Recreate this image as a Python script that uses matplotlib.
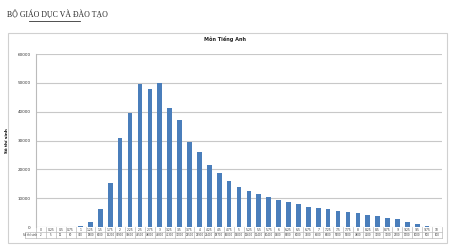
import matplotlib.pyplot as plt
import numpy as np
from matplotlib.patches import Rectangle
from matplotlib.lines import Line2D
import matplotlib.transforms as mtransforms

# score bins and number of candidates
scores = ['0', '0.25', '0.5', '0.75', '1', '1.25', '1.5', '1.75', '2', '2.25',
          '2.5', '2.75', '3', '3.25', '3.5', '3.75', '4', '4.25', '4.5', '4.75',
          '5', '5.25', '5.5', '5.75', '6', '6.25', '6.5', '6.75', '7', '7.25',
          '7.5', '7.75', '8', '8.25', '8.5', '8.75', '9', '9.25', '9.5', '9.75', '10']
counts = [2, 5, 12, 60, 300, 1800, 6200, 15200, 30900, 39600,
          49500, 48000, 49800, 41300, 37000, 29500, 25900, 21400, 18700, 16000,
          14000, 12600, 11400, 10400, 9400, 8700, 8000, 7100, 6600, 6300,
          5700, 5200, 4800, 4200, 3700, 3100, 2700, 1700, 1000, 500, 100]
yticks = [0, 10000, 20000, 30000, 40000, 50000, 60000]

W, H = 450, 247
BLUE = '#4A7EBB'
GRID = '#C8C8C8'


def main():
    fig = plt.figure(figsize=(W / 100, H / 100), dpi=100)
    fig.patch.set_facecolor('white')

    # page header
    fig.text(7 / W, 1 - 15 / H, 'BỘ GIÁO DỤC VÀ ĐÀO TẠO', family='Liberation Serif',
             fontsize=5.6, ha='left', va='center', color='#222222')
    fig.add_artist(Line2D([29 / W, 80 / W], [1 - 21 / H, 1 - 21 / H],
                          transform=fig.transFigure, color='#333333', lw=0.6))

    # chart frame
    fig.add_artist(Rectangle((8 / W, 1 - 243 / H), 439 / W, 210 / H,
                             transform=fig.transFigure, fill=False,
                             edgecolor='#D0D0D0', lw=0.8))
    fig.text(225 / W, 1 - 39 / H, 'Môn Tiếng Anh', fontsize=3.6, fontweight='bold',
             ha='center', va='center', color='#222222')

    left, right, top, bottom = 36, 442, 54, 227
    ax = fig.add_axes([left / W, 1 - bottom / H, (right - left) / W, (bottom - top) / H])
    x = np.arange(len(scores))
    ax.bar(x, counts, width=0.47, color=BLUE, zorder=3)
    ax.set_xlim(-0.5, len(scores) - 0.5)
    ax.set_ylim(0, 60000)
    ax.set_yticks(yticks)
    ax.set_yticklabels([str(v) for v in yticks], fontsize=3, color='#333333')
    ax.tick_params(axis='y', length=0, pad=4)
    ax.set_xticks([])
    ax.grid(axis='y', color=GRID, lw=0.8, zorder=0)
    for s in ['top', 'right', 'bottom']:
        ax.spines[s].set_visible(False)
    ax.spines['left'].set_color('#BBBBBB')
    ax.spines['left'].set_linewidth(0.8)
    ax.set_ylabel('Số thí sinh', fontsize=3, fontweight='bold', labelpad=6)

    # data table under the bars
    ph = bottom - top
    r1, r2, r3 = -5 / ph, -11 / ph, -0.0
    trans = mtransforms.blended_transform_factory(ax.transData, ax.transAxes)
    for yy in [r1, r2]:
        ax.add_line(Line2D([-0.5, len(scores) - 0.5], [yy, yy], transform=trans,
                           color='#BBBBBB', lw=0.5, clip_on=False))
    ax.add_line(Line2D([-1.6, -0.5], [r1, r1], transform=trans,
                       color='#BBBBBB', lw=0.5, clip_on=False))
    ax.add_line(Line2D([-1.6, -1.6], [r1, r2], transform=trans,
                       color='#BBBBBB', lw=0.5, clip_on=False))
    ax.add_line(Line2D([-1.6, -0.5], [r2, r2], transform=trans,
                       color='#BBBBBB', lw=0.5, clip_on=False))
    for i in range(len(scores) + 1):
        ax.add_line(Line2D([i - 0.5, i - 0.5], [r3, r2], transform=trans,
                           color='#BBBBBB', lw=0.5, clip_on=False))
    for i, (s, c) in enumerate(zip(scores, counts)):
        ax.text(i, (r3 + r1) / 2, s, transform=trans, fontsize=2.2,
                ha='center', va='center', color='#333333', clip_on=False)
        ax.text(i, (r1 + r2) / 2, f'{c}', transform=trans, fontsize=1.9,
                ha='center', va='center', color='#333333', clip_on=False)
    ax.text(-1.05, (r1 + r2) / 2, 'Số thí sinh', transform=trans, fontsize=1.9,
            ha='center', va='center', color='#333333', clip_on=False)

    fig.savefig('out.png', dpi=100)


if __name__ == '__main__':
    main()
